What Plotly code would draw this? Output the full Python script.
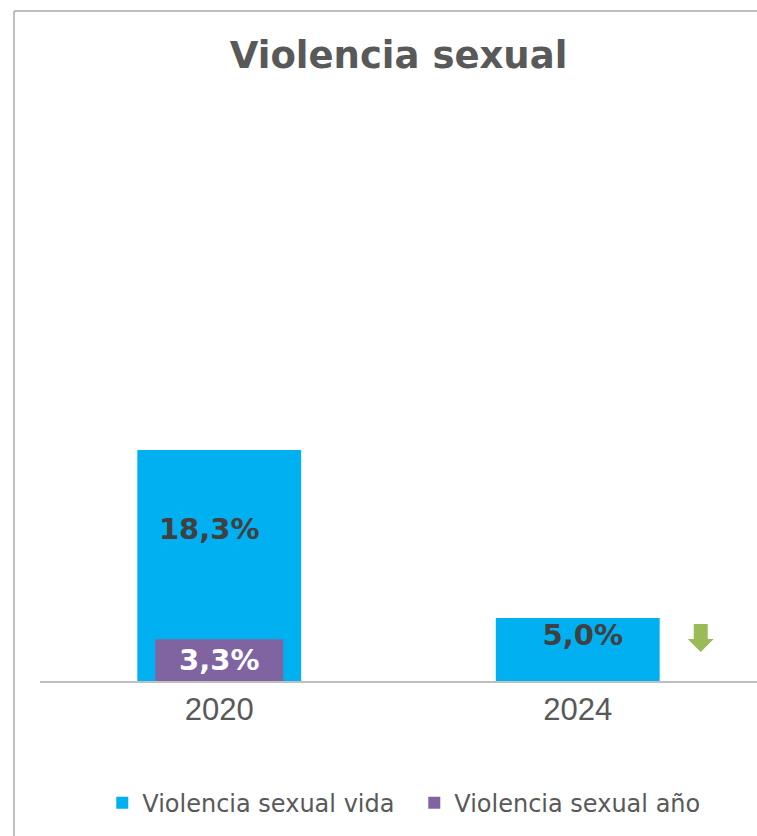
import plotly.graph_objects as go

years = ["2020", "2024"]
vida = [0.183, 0.050]
anio = [0.033, None]
vida_labels = ["18,3%", "5,0%"]
anio_labels = ["3,3%", ""]

BLUE = "#00B0F0"
PURPLE = "#8064A2"
GREEN = "#9BBB59"

fig = go.Figure()
fig.add_trace(go.Bar(
    x=years, y=vida, name="Violencia sexual vida",
    marker=dict(color=BLUE, line=dict(width=0)), width=0.457,
    hoverinfo="skip",
))
fig.add_trace(go.Bar(
    x=years, y=anio, name="Violencia sexual año",
    marker=dict(color=PURPLE, line=dict(width=0)), width=0.357,
    text=anio_labels, textposition="inside", insidetextanchor="middle",
    textfont=dict(family="DejaVu Sans", size=29, color="white", weight="bold"),
    textangle=0, hoverinfo="skip",
))

# labels of the blue bars: placement offsets (category index units / value units)
label_dx = [-0.028, 0.014]
label_y = [0.1186, 0.034]
fig.add_trace(go.Scatter(
    x=[i + d for i, d in enumerate(label_dx)], y=label_y, xaxis="x2",
    mode="text", text=vida_labels,
    textfont=dict(family="DejaVu Sans", size=29, color="#404040", weight="bold"),
    textposition="middle center", showlegend=False, hoverinfo="skip",
))

# green down arrow next to the 2024 bar
fig.add_shape(type="path", xref="x", yref="y", xsizemode="pixel", ysizemode="pixel",
              xanchor=1.343, yanchor=0.034,
              path="M -7,14 L 7,14 L 7,-1 L 13,-1 L 0,-14 L -13,-1 L -7,-1 Z",
              fillcolor=GREEN, line=dict(width=0))

# chart area border (top and left)
fig.add_shape(type="line", xref="paper", yref="paper", x0=-0.0363, x1=1.01, y0=1.1796, y1=1.1796,
              line=dict(color="#BFBFBF", width=2))
fig.add_shape(type="line", xref="paper", yref="paper", x0=-0.0363, x1=-0.0363, y0=-0.3, y1=1.1796,
              line=dict(color="#BFBFBF", width=2))

fig.update_layout(
    width=757, height=836,
    margin=dict(l=40, r=0, t=113, b=155),
    paper_bgcolor="white", plot_bgcolor="white",
    barmode="overlay",
    title=dict(text="<b>Violencia sexual</b>", x=0.5265, xanchor="center", y=0.934, yanchor="middle",
               font=dict(family="DejaVu Sans", size=37, color="#595959")),
    xaxis=dict(type="category", range=[-0.5, 1.5], showline=True, linecolor="#BFBFBF", linewidth=2,
               ticks="", showgrid=False, zeroline=False,
               tickfont=dict(family="Liberation Sans", size=31, color="#595959")),
    xaxis2=dict(overlaying="x", range=[-0.5, 1.5], visible=False, showgrid=False, zeroline=False),
    yaxis=dict(range=[0, 0.45], visible=False, showgrid=False, zeroline=False),
    showlegend=True,
    legend=dict(orientation="h", x=0.522, xanchor="center", y=-0.215, yanchor="middle",
                font=dict(family="DejaVu Sans", size=24, color="#595959"),
                itemwidth=30, entrywidth=267, tracegroupgap=0),
)

fig.write_html("out.html", config={"displayModeBar": False},
               post_script="document.body.style.margin='0';document.body.style.overflow='hidden';")
